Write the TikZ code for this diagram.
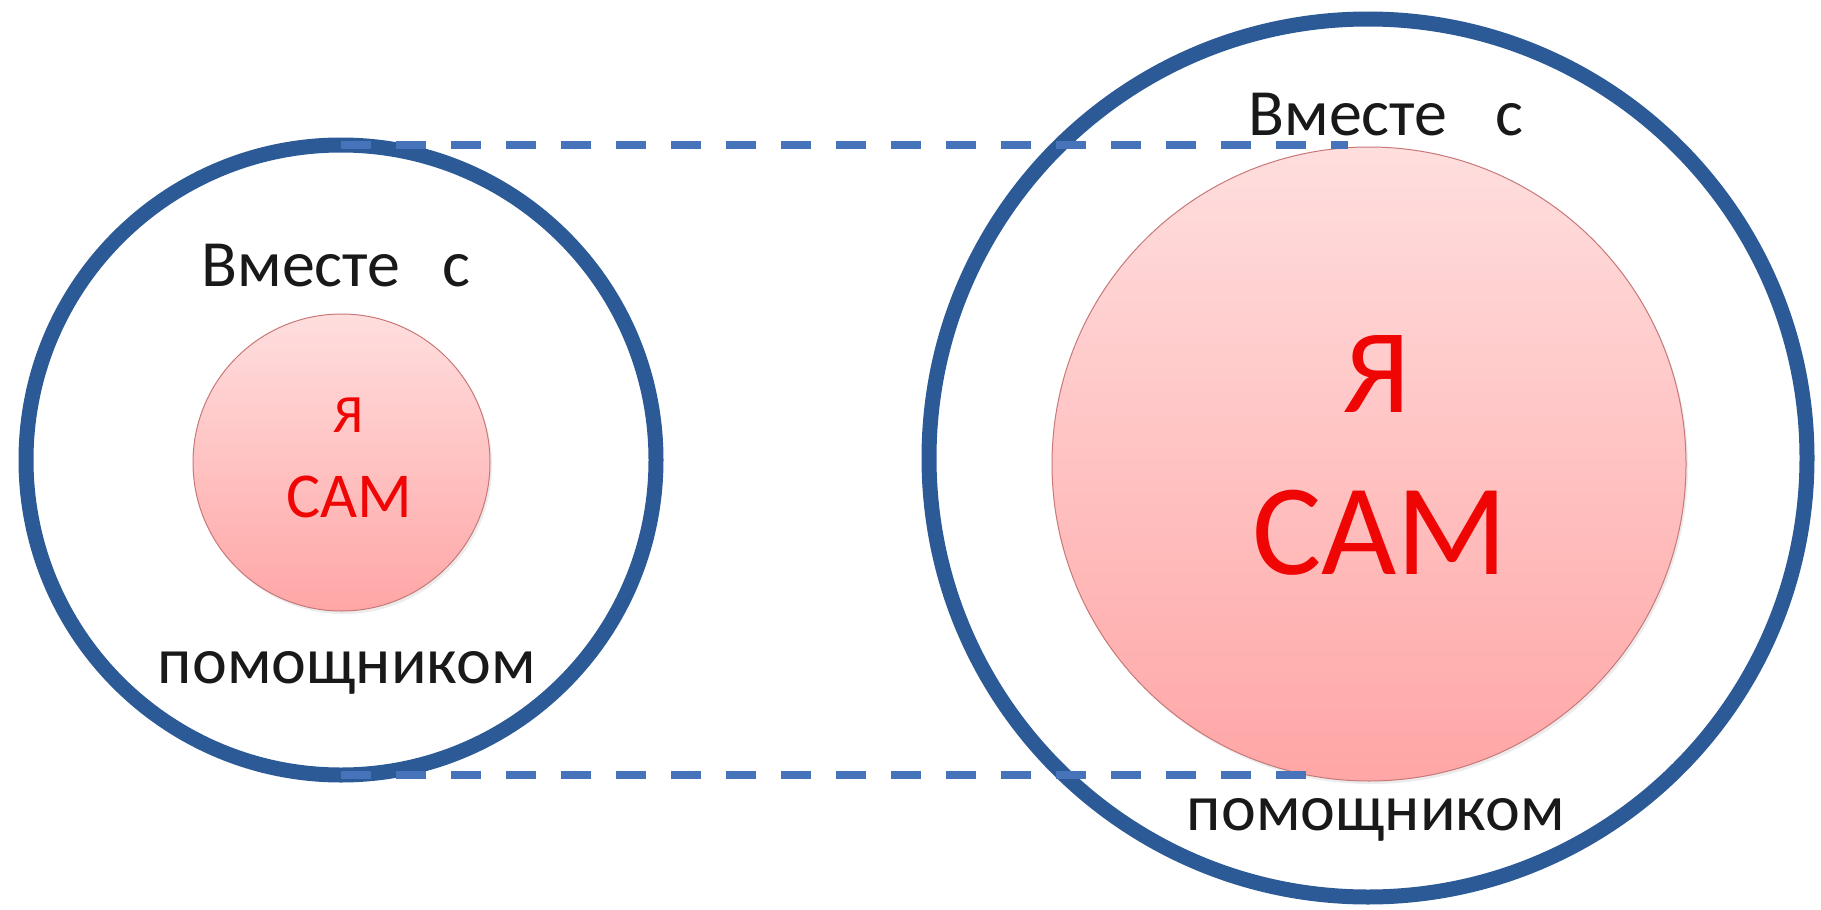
\documentclass[tikz,border=0pt]{standalone}
\usepackage{fontspec}
\setmainfont{Carlito}
\usetikzlibrary{shadows}
\definecolor{ringblue}{RGB}{44,90,150}
\definecolor{dashblue}{RGB}{70,115,185}
\definecolor{pinktop}{RGB}{255,222,222}
\definecolor{pinkbot}{RGB}{255,166,166}
\definecolor{pinkedge}{RGB}{200,120,120}
\definecolor{samred}{RGB}{240,5,5}
\definecolor{txt}{RGB}{25,25,25}
\begin{document}
\begin{tikzpicture}[x=1pt,y=-1pt,
 ring/.style={circle,draw=ringblue,line width=15pt,inner sep=0pt,outer sep=0pt},
 core/.style={circle,draw=pinkedge,line width=1pt,top color=pinktop,bottom color=pinkbot,inner sep=0pt,outer sep=0pt,drop shadow={opacity=0.15,shadow xshift=2pt,shadow yshift=-3pt}},
 link/.style={draw=dashblue,line width=8pt,dash pattern=on 30pt off 25pt},
 lbl/.style={anchor=base,inner sep=0pt,text=txt},
 sam/.style={anchor=base,inner sep=0pt,text=samred},
 ]
\useasboundingbox[fill=white] (0,0) rectangle (1821,910);
% left group
\node[ring,minimum size=630pt] (lbig) at (341,460) {};
\node[core,minimum size=297pt] (lsmall) at (341.5,462.5) {};
\node[lbl,font=\fontsize{66}{78}\selectfont] (ltop) at (336,286) {Вместе\hspace{42pt}с};
\node[lbl,font=\fontsize{66}{78}\selectfont] (lbot) at (347,683) {помощником};
\node[sam,font=\fontsize{54}{64}\selectfont] (lya) at (348,432) {Я};
\node[sam,font=\fontsize{64}{76}\selectfont] (lsam) at (349,517) {САМ};
% right group
\node[ring,minimum size=878pt] (rbig) at (1368,458) {};
\node[core,minimum size=634pt] (rsmall) at (1369,464) {};
\node[lbl,font=\fontsize{66}{78}\selectfont] (rtop) at (1386,135) {Вместе\hspace{48pt}с};
\node[lbl,font=\fontsize{66}{78}\selectfont] (rbot) at (1376,830) {помощником};
\node[sam,font=\fontsize{120}{140}\selectfont] (rya) at (1377,412) {Я};
\node[sam,font=\fontsize{130}{150}\selectfont] (rsam) at (1380,574) {САМ};
% dashed links
\coordinate (tend) at (1348,145);
\coordinate (bend) at (1321,775);
\draw[link] (lbig.north) -- (tend);
\draw[link] (lbig.south) -- (bend);
\end{tikzpicture}
\end{document}
